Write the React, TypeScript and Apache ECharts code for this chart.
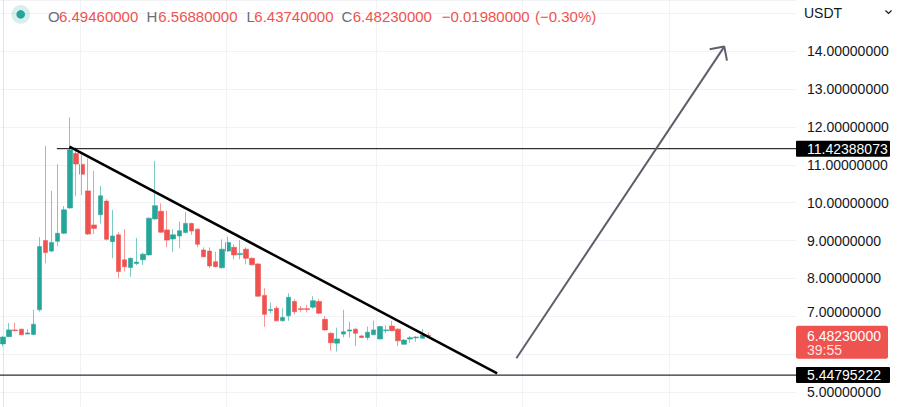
import React, { useEffect, useRef } from 'react';
import * as echarts from 'echarts';

// ---- data ----
const candleOpen = [
  6.27, 6.46, 6.64, 6.66, 6.53, 6.52, 7.17, 9.0, 8.72, 8.98,
  9.19, 9.86, 11.3, 11.01, 10.31, 9.41, 9.68, 10.04, 8.97, 9.15,
  8.49, 8.29, 8.39, 8.49, 8.62, 9.57, 9.77, 9.28, 9.04, 9.12,
  9.21, 9.45, 9.3, 8.75, 8.72, 8.44, 8.28, 8.72, 8.82, 8.63,
  8.77, 8.53, 8.38, 7.55, 7.15, 7.21, 6.88, 7.01, 7.39, 7.2,
  7.2, 7.24, 7.39, 6.92, 6.55, 6.29, 6.53, 6.61, 6.66, 6.48,
  6.44, 6.51, 6.4, 6.62, 6.74, 6.66, 6.26, 6.4, 6.43, 6.42, 6.4946,
];
const candleClose = [
  6.45, 6.64, 6.62, 6.51, 6.56, 6.79, 8.84, 8.68, 8.95, 9.19,
  9.81, 11.39, 11.02, 10.75, 9.17, 9.32, 10.18, 9.03, 9.12, 8.18,
  8.31, 8.53, 8.43, 8.64, 9.59, 9.92, 9.22, 9.01, 9.15, 9.26,
  9.45, 9.25, 8.9, 8.57, 8.33, 8.31, 8.77, 8.95, 8.62, 8.66,
  8.53, 8.36, 7.53, 7.05, 7.18, 6.88, 6.97, 7.5, 7.12, 7.18,
  7.18, 7.41, 7.08, 6.64, 6.3, 6.4, 6.59, 6.64, 6.55, 6.44,
  6.58, 6.64, 6.73, 6.64, 6.62, 6.35, 6.37, 6.43, 6.45, 6.5021, 6.4823,
];
const candleLow = [
  6.2, 6.45, 6.6, 6.51, 6.52, 6.5, 7.12, 8.4, 8.7, 8.85,
  9.17, 9.84, 10.17, 10.2, 9.15, 9.17, 9.45, 9.0, 8.53, 8.0,
  8.18, 8.04, 8.35, 8.35, 8.6, 9.55, 9.2, 8.82, 8.7, 8.79,
  9.19, 9.15, 8.82, 8.55, 8.27, 8.29, 8.26, 8.7, 8.5, 8.5,
  8.37, 8.34, 7.51, 6.72, 7.08, 6.86, 6.86, 6.88, 7.05, 7.12,
  7.1, 7.2, 7.05, 6.62, 6.09, 6.07, 6.44, 6.44, 6.21, 6.42,
  6.37, 6.5, 6.39, 6.55, 6.6, 6.21, 6.25, 6.3, 6.33, 6.41, 6.4374,
];
const candleHigh = [
  6.47, 6.82, 6.83, 6.67, 6.66, 7.17, 9.09, 11.5, 10.31, 11.01,
  9.91, 12.25, 11.46, 11.3, 11.17, 10.84, 10.44, 10.09, 9.81, 9.22,
  9.3, 8.55, 9.07, 8.68, 9.61, 11.1, 9.98, 9.79, 9.3, 9.5,
  9.75, 9.47, 9.32, 8.82, 8.82, 8.7, 9.03, 9.1, 8.9, 9.01,
  8.82, 8.56, 8.41, 7.74, 7.36, 7.27, 7.21, 7.61, 7.45, 7.27,
  7.3, 7.53, 7.45, 7.0, 6.58, 6.7, 7.17, 6.86, 6.68, 6.51,
  6.73, 6.88, 6.75, 6.76, 6.88, 6.68, 6.4, 6.48, 6.48, 6.66, 6.5688,
];
const slotCount = 131; // candle slots incl. empty space to the right
const categories = Array.from({ length: slotCount }, (_, i) => String(i));

const yMin = 4.604;
const yMax = 15.35;

// drawings (x in slot index units, y in price)
const gridTimes = [12.78, 36.71, 61.48, 85.42, 109.68];
const trendLine = [[10.93, 11.48], [81.32, 5.49]];
const arrowShaft = [[84.48, 5.89], [118.7, 14.12]];
const arrowHead = [[116.29, 14.05], [118.7, 14.12], [119.14, 13.75]];
const resistanceLevel = 11.42388073;
const resistanceStart = 8.85;
const supportLevel = 5.44795222;
const lastPrice = 6.4823;
const countdown = '39:55';

const headerOpen = '6.49460000';
const headerHigh = '6.56880000';
const headerLow = '6.43740000';
const headerClose = '6.48230000';
const headerChange = '\u22120.01980000';
const headerPct = '(\u22120.30%)';

const FONT = "'Liberation Sans', Arial, sans-serif";
const UP = '#26a69a';
const DOWN = '#ef5350';
const GRID = '#f0f2f6';

export default function App() {
  const ref = useRef<HTMLDivElement>(null);
  useEffect(() => {
    const chart = echarts.init(ref.current!, null, { renderer: 'svg' });
    const candles = candleOpen.map((o, i) => [o, candleClose[i], candleLow[i], candleHigh[i]]);
    const lineSeries = (data: number[][], color: string, width: number) => ({
      type: 'line',
      xAxisIndex: 1,
      yAxisIndex: 0,
      data,
      symbol: 'none',
      silent: true,
      z: 5,
      lineStyle: { color, width },
    });
    chart.setOption({
      animation: false,
      grid: { left: -3, right: 104, top: 0, bottom: 0 },
      xAxis: [
        {
          type: 'category',
          data: categories,
          boundaryGap: true,
          axisLine: { show: false },
          axisTick: { show: false },
          axisLabel: { show: false },
          splitLine: { show: false },
        },
        { type: 'value', min: -0.5, max: slotCount - 0.5, show: false },
      ],
      yAxis: {
        type: 'value',
        position: 'right',
        min: yMin,
        max: yMax,
        splitNumber: 10,
        minInterval: 1,
        maxInterval: 1,
        axisLine: { show: true, lineStyle: { color: '#e0e3eb', width: 1 } },
        axisTick: { show: false },
        splitLine: { show: true, lineStyle: { color: GRID, width: 1 } },
        axisLabel: {
          show: true,
          color: '#131722',
          fontSize: 14,
          fontFamily: FONT,
          margin: 11,
          showMinLabel: false,
          showMaxLabel: false,
          formatter: (v: number) => {
            if (Math.abs(v - Math.round(v)) > 1e-6) return '';
            if (v === 15 || v === 6) return '';
            if (v === 7) return '{up|' + v.toFixed(8) + '}';
            return v.toFixed(8);
          },
          rich: { up: { padding: [0, 0, 8, 0], fontSize: 14, fontFamily: FONT, color: '#131722' } },
        },
      },
      series: [
        {
          type: 'line',
          xAxisIndex: 1,
          data: [],
          silent: true,
          z: 1,
          markLine: {
            silent: true,
            symbol: ['none', 'none'],
            label: { show: false },
            lineStyle: { color: GRID, width: 1, type: 'solid' },
            data: gridTimes.map((t) => ({ xAxis: t })),
          },
        },
        {
          type: 'candlestick',
          data: candles,
          barWidth: 5,
          z: 3,
          itemStyle: {
            color: UP,
            color0: DOWN,
            borderColor: UP,
            borderColor0: DOWN,
            borderWidth: 0.6,
          },
        },
        lineSeries([[resistanceStart, resistanceLevel], [slotCount - 0.5, resistanceLevel]], '#000000', 1),
        lineSeries([[-0.5, supportLevel], [slotCount - 0.5, supportLevel]], '#2a2e39', 1.2),
        lineSeries(trendLine, '#000000', 2.5),
        lineSeries(arrowShaft, '#5d606b', 2),
        lineSeries(arrowHead, '#5d606b', 2),
      ],
    });

    const yRes = chart.convertToPixel({ yAxisIndex: 0 }, resistanceLevel) as number;
    const ySup = chart.convertToPixel({ yAxisIndex: 0 }, supportLevel) as number;
    const yLast = chart.convertToPixel({ yAxisIndex: 0 }, lastPrice) as number;

    const hText = (x: number, text: string, color: string) => ({
      type: 'text',
      x,
      y: 16,
      z: 50,
      style: { text, fill: color, font: `15px ${FONT}`, textVerticalAlign: 'middle', verticalAlign: 'middle' },
    });
    const priceBox = (y: number, text: string) => [
      { type: 'rect', z: 60, shape: { x: 796, y: y - 8, width: 94, height: 16, r: 1 }, style: { fill: '#000000' } },
      {
        type: 'text', z: 61, x: 807, y,
        style: { text, fill: '#ffffff', font: `14px ${FONT}`, verticalAlign: 'middle', textVerticalAlign: 'middle' },
      },
    ];

    chart.setOption({
      graphic: [
        { type: 'rect', z: 40, shape: { x: 797, y: 0, width: 103, height: 27 }, style: { fill: '#ffffff' } },
        { type: 'circle', z: 50, shape: { cx: 20.7, cy: 14.4, r: 9.3 }, style: { fill: 'rgba(38,166,154,0.18)' } },
        { type: 'circle', z: 51, shape: { cx: 20.7, cy: 14.4, r: 4.3 }, style: { fill: UP } },
        hText(48, 'O', '#6b6e78'),
        hText(59, headerOpen, DOWN),
        hText(146.5, 'H', '#6b6e78'),
        hText(158.3, headerHigh, DOWN),
        hText(246.5, 'L', '#6b6e78'),
        hText(254.3, headerLow, DOWN),
        hText(341.5, 'C', '#6b6e78'),
        hText(352.7, headerClose, DOWN),
        hText(441.7, headerChange, DOWN),
        hText(535, headerPct, DOWN),
        {
          type: 'text', z: 51, x: 804, y: 13,
          style: { text: 'USDT', fill: '#131722', font: `14px ${FONT}`, verticalAlign: 'middle', textVerticalAlign: 'middle' },
        },
        {
          type: 'polyline', z: 51,
          shape: { points: [[885.5, 10.5], [888.5, 13.5], [891.5, 10.5]] },
          style: { stroke: '#131722', lineWidth: 1.2, fill: 'none' },
        },
        ...priceBox(yRes, resistanceLevel.toFixed(8)),
        ...priceBox(ySup, supportLevel.toFixed(8)),
        { type: 'rect', z: 60, shape: { x: 796, y: yLast - 10, width: 92, height: 33, r: 2 }, style: { fill: DOWN } },
        {
          type: 'text', z: 61, x: 807, y: yLast,
          style: { text: lastPrice.toFixed(8), fill: '#ffffff', font: `14px ${FONT}`, verticalAlign: 'middle', textVerticalAlign: 'middle' },
        },
        {
          type: 'text', z: 61, x: 807, y: yLast + 14.5,
          style: { text: countdown, fill: 'rgba(255,255,255,0.85)', font: `14px ${FONT}`, verticalAlign: 'middle', textVerticalAlign: 'middle' },
        },
      ],
    });
    return () => chart.dispose();
  }, []);
  return (
    <div
      ref={ref}
      style={{ position: 'fixed', left: 0, top: 0, width: 900, height: 407, background: '#ffffff' }}
    />
  );
}
